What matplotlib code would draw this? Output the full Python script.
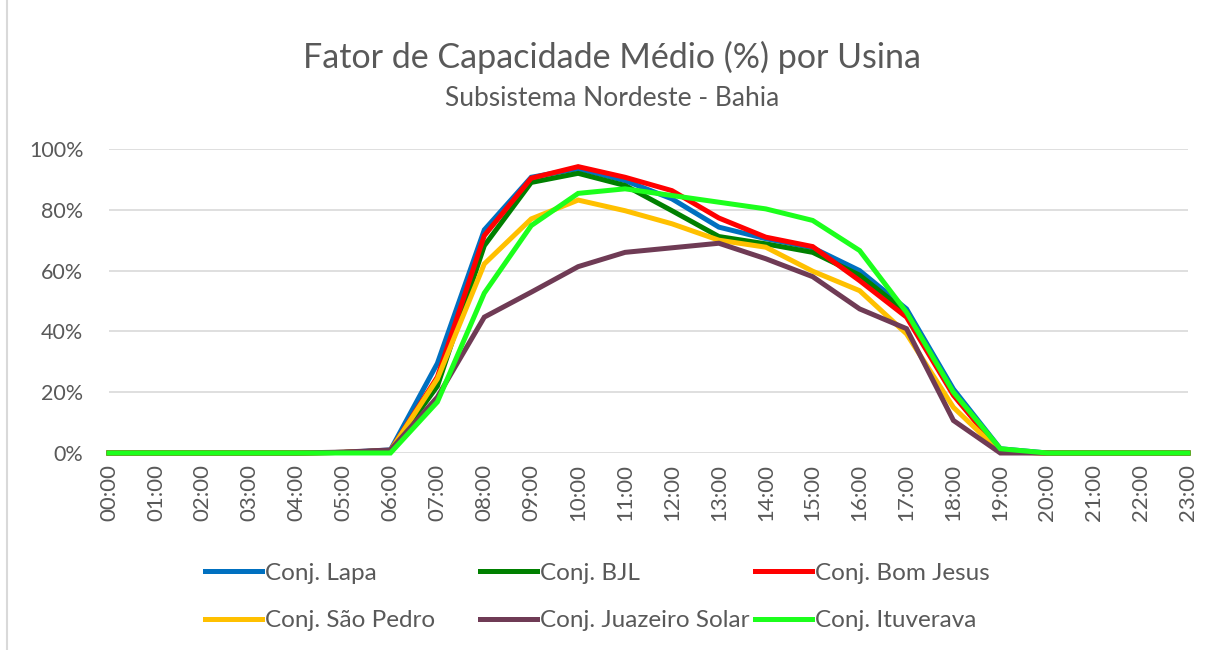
import numpy as np
import matplotlib.pyplot as plt
from matplotlib.lines import Line2D

plt.rcParams['font.family'] = ['Lato', 'DejaVu Sans']

horas = [f"{h:02d}:00" for h in range(24)]

# fator de capacidade médio (%) por hora
lapa = [0, 0, 0, 0, 0, 0.2, 1.0, 29.5, 73.4, 90.7, 93.5, 89.6, 83.6, 74.3, 70.5, 67.5, 60.0, 47.4, 21.0, 1.4, 0, 0, 0, 0]
bjl = [0, 0, 0, 0, 0, 0.2, 0.8, 22.0, 68.2, 89.0, 92.0, 88.0, 79.7, 71.2, 68.8, 66.0, 58.5, 46.3, 19.5, 0.5, 0, 0, 0, 0]
bom_jesus = [0, 0, 0, 0, 0, 0.2, 0.8, 25.0, 71.5, 90.4, 94.2, 90.7, 86.3, 77.3, 71.0, 67.9, 56.7, 44.7, 19.0, 0.5, 0, 0, 0, 0]
sao_pedro = [0, 0, 0, 0, 0, 0.2, 0.8, 24.4, 62.2, 77.0, 83.2, 79.7, 75.4, 70.0, 67.7, 59.8, 53.4, 39.2, 15.0, 0.3, 0, 0, 0, 0]
juazeiro = [0, 0, 0, 0, 0, 0.3, 1.0, 18.4, 44.7, 52.9, 61.3, 66.0, 67.5, 69.0, 63.9, 58.0, 47.4, 40.9, 10.7, 0, 0, 0, 0, 0]
ituverava = [0, 0, 0, 0, 0, 0, 0, 16.8, 52.6, 74.8, 85.4, 86.9, 84.7, 82.5, 80.3, 76.5, 66.6, 46.3, 20.0, 1.4, 0, 0, 0, 0]

series = [
    ("Conj. Lapa", lapa, "#0070C0"),
    ("Conj. BJL", bjl, "#008000"),
    ("Conj. Bom Jesus", bom_jesus, "#FF0000"),
    ("Conj. São Pedro", sao_pedro, "#FFC000"),
    ("Conj. Juazeiro Solar", juazeiro, "#6F3B55"),
    ("Conj. Ituverava", ituverava, "#1CFF1C"),
]

cinza = "#595959"
W, H = 1212, 650

fig = plt.figure(figsize=(W / 100, H / 100), dpi=100)
ax = fig.add_axes([109 / W, 1 - 453 / H, (1188 - 109) / W, (453 - 149) / H])

x = np.arange(len(horas))
linhas = {}
for nome, valores, cor in series:
    linhas[nome], = ax.plot(x, np.array(valores) / 100, color=cor, lw=3.6,
                            solid_joinstyle='miter', label=nome, clip_on=False)

ax.set_xlim(0, 23)
ax.set_ylim(0, 1)
yt = np.arange(0, 1.01, 0.2)
ax.set_yticks(yt)
ax.set_yticklabels([f"{int(round(v * 100))}%" for v in yt])
ax.set_xticks(x)
ax.set_xticklabels(horas, rotation=90)
ax.tick_params(axis='both', length=0, labelcolor=cinza)
ax.tick_params(axis='y', pad=18.5, labelsize=15.5)
ax.tick_params(axis='x', pad=8, labelsize=16)
ax.grid(axis='y', color='#D9D9D9', lw=1.2)
ax.set_axisbelow(True)
for s in ax.spines.values():
    s.set_visible(False)

fig.text(0.505, 1 - 57 / H, "Fator de Capacidade Médio (%) por Usina",
         ha='center', va='center', fontsize=24.5, color=cinza)
fig.text(0.505, 1 - 98 / H, "Subsistema Nordeste - Bahia",
         ha='center', va='center', fontsize=19, color=cinza)

# legenda: três colunas, cada uma com duas entradas
colunas = [["Conj. Lapa", "Conj. São Pedro"],
           ["Conj. BJL", "Conj. Juazeiro Solar"],
           ["Conj. Bom Jesus", "Conj. Ituverava"]]
x_colunas = [205, 480, 755]
for nomes, xc in zip(colunas, x_colunas):
    handles = [Line2D([], [], color=linhas[n].get_color(), lw=3.6) for n in nomes]
    fig.legend(handles, nomes, loc='center left', bbox_to_anchor=(xc / W, 1 - 597 / H),
               frameon=False, fontsize=17.5, labelcolor=cinza, handlelength=2.35,
               handletextpad=0.12, labelspacing=1.08, borderpad=0, borderaxespad=0)

fig.add_artist(Line2D([7 / W, 7 / W], [0, 1], color='#D9D9D9', lw=1.5))

fig.savefig("out.png", dpi=100, facecolor='white')
